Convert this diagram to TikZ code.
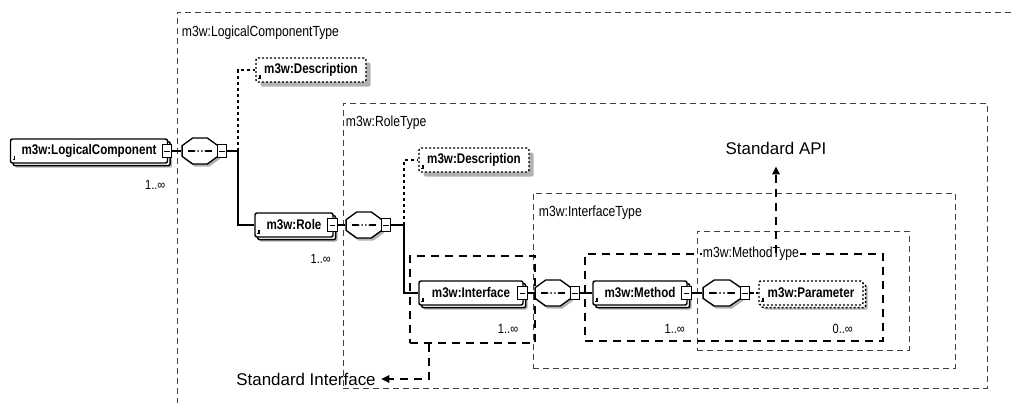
\documentclass[tikz,border=0pt]{standalone}
\usepackage{fontspec}
\setmainfont{Liberation Sans}
\newfontfamily\narrowfont[FakeStretch=0.83]{Liberation Sans}
\usepackage{tikz}
\usetikzlibrary{positioning,arrows.meta,fit,shadows,shapes.geometric}

\newcommand\elemfont{\narrowfont\bfseries\fontsize{10.5}{12}\selectfont}
\newcommand\typefont{\narrowfont\fontsize{11}{13}\selectfont}
\newcommand\cardfont{\narrowfont\fontsize{10}{12}\selectfont}

\begin{document}
\begin{tikzpicture}[
  x=0.75pt, y=-0.75pt,
  elem/.style={draw, line width=1.1pt, rounded corners=1.5pt, fill=white, font=\elemfont,
    minimum height=18pt, inner sep=0pt,
    general shadow={fill=black!30, shadow xshift=3.5pt, shadow yshift=-3.5pt},
    path picture={\draw[line width=1pt, solid, sharp corners]
      ([shift={(3pt,5pt)}]path picture bounding box.south west) -- ++(0pt,-2.5pt) -- ++(-1.2pt,0pt);}},
  multi/.style={copy shadow={shadow xshift=2pt, shadow yshift=-2pt}},
  opt/.style={dash pattern=on 1.5pt off 1.5pt},
  seq/.style={regular polygon, regular polygon sides=8, minimum size=21pt, xscale=1.38,
    draw, line width=1pt, fill=white, inner sep=0pt,
    general shadow={fill=black!30, shadow xshift=1.5pt, shadow yshift=-2pt},
    path picture={
      \draw[line width=0.8pt] ([xshift=-6.5pt]path picture bounding box.center) -- ([xshift=6.5pt]path picture bounding box.center);
      \fill (path picture bounding box.center) circle (1pt);
      \fill ([xshift=-2pt]path picture bounding box.center) circle (1pt);
      \fill ([xshift=2pt]path picture bounding box.center) circle (1pt);}},
  btn/.style={draw, line width=0.8pt, fill=white, minimum width=7pt, minimum height=10pt, inner sep=0pt,
    path picture={\draw[line width=0.6pt] ([xshift=1.5pt]path picture bounding box.west) -- ([xshift=-1.5pt]path picture bounding box.east);}},
  conn/.style={line width=0.8pt},
  optconn/.style={conn, dash pattern=on 2.5pt off 2pt},
  card/.style={font=\cardfont, inner sep=0pt},
  typebox/.style={draw=black!75, line width=0.5pt, dash pattern=on 4.5pt off 3pt, inner sep=0pt},
  typelbl/.style={font=\typefont, inner sep=0.5pt, anchor=west},
  annot/.style={draw, line width=1.6pt, dash pattern=on 6pt off 4.5pt, inner sep=0pt},
  annarr/.style={line width=1.6pt, dash pattern=on 6pt off 4.5pt, -{Triangle[length=6pt,width=5.5pt]}},
  remark/.style={font=\fontsize{12.7}{15}\selectfont, inner sep=1pt},
]
  \useasboundingbox (0,0) rectangle (1013,403);
  \clip (0,0) rectangle (1013,403);

  % complex types
  \node[typebox, fit={(177,12) (1040,430)}] (lctype) {};
  \node[typelbl] (lctlbl) at (181,33) {m3w:LogicalComponentType};
  \node[typebox, fit={(343,103) (987,388)}] (roletype) {};
  \node[typelbl] (rtlbl) at (345,123) {m3w:RoleType};
  \node[typebox, fit={(533,193) (955,368)}] (iftype) {};
  \node[typelbl] (itlbl) at (538,213) {m3w:InterfaceType};
  \node[typebox, fit={(697,231) (909,350)}] (mtype) {};

  % standard interface / API marks
  \node[annot, fit={(410,256) (535,343)}] (ifbox) {};
  \node[annot, fit={(585,254) (883,341)}] (apibox) {};
  \node[typelbl, fill=white] (mtlbl) at (702,254) {m3w:MethodType};
  \node[remark] (stdapi) at (776,148) {Standard API};
  \node[remark] (stdif) at (306,379) {Standard Interface};
  \draw[annarr, shorten >=8pt] (apibox.north -| stdapi.south) -- (stdapi.south);
  \draw[annarr, shorten >=3pt] ([xshift=15pt]ifbox.south west) |- (stdif.east);

  % LogicalComponent
  \node[elem, multi, minimum width=117.75pt] (lc) at (89,151) {m3w:LogicalComponent};
  \node[btn] (lcb) at ([xshift=-1pt]lc.east) {};
  \node[card, below left=12pt and 2pt of lc.south east] (lcn) {1..∞};
  \node[seq] (seq1) at (200,151) {};
  \node[btn, anchor=west] (s1b) at ([xshift=-1.5pt]seq1.east) {};
  \coordinate (j1) at (238,151);
  \node[elem, opt, minimum width=82.5pt] (desc1) at (311,70) {m3w:Description};

  % Role
  \node[elem, multi, minimum width=58.5pt] (role) at (294,225) {m3w:Role};
  \node[btn] (roleb) at ([xshift=-1pt]role.east) {};
  \node[card, below left=12pt and 2pt of role.south east] (rolen) {1..∞};
  \node[seq] (seq2) at (364,225) {};
  \node[btn, anchor=west] (s2b) at ([xshift=-1.5pt]seq2.east) {};
  \coordinate (j2) at (404,225);
  \node[elem, opt, minimum width=82.5pt] (desc2) at (474,160) {m3w:Description};

  % Interface, Method, Parameter
  \node[elem, multi, minimum width=78pt] (iface) at (471,293) {m3w:Interface};
  \node[btn] (ifaceb) at ([xshift=-1pt]iface.east) {};
  \node[card, below left=14pt and 4pt of iface.south east] (ifacen) {1..∞};
  \node[seq] (seq3) at (553,293) {};
  \node[btn, anchor=west] (s3b) at ([xshift=-1.5pt]seq3.east) {};
  \node[elem, multi, minimum width=70.5pt] (method) at (640,293) {m3w:Method};
  \node[btn] (methodb) at ([xshift=-1pt]method.east) {};
  \node[card, below left=14pt and 2pt of method.south east] (methodn) {1..∞};
  \node[seq, xscale=1.06] (seq4) at (722,293) {};
  \node[btn, anchor=west] (s4b) at ([xshift=-1.5pt]seq4.east) {};
  \node[elem, opt, multi, minimum width=78pt] (param) at (811,293) {m3w:Parameter};
  \node[card, below left=14pt and 8pt of param.south east] (paramn) {0..∞};

  % model connectors
  \draw[conn] (lcb.east) -- (seq1.west);
  \draw[conn] (s1b.east) -- (j1);
  \draw[conn] (j1) |- (role.west);
  \draw[optconn] (j1) |- (desc1.west);
  \draw[conn] (roleb.east) -- (seq2.west);
  \draw[conn] (s2b.east) -- (j2);
  \draw[conn] (j2) |- (iface.west);
  \draw[optconn] (j2) |- (desc2.west);
  \draw[conn] (ifaceb.east) -- (seq3.west);
  \draw[conn] (s3b.east) -- (method.west);
  \draw[conn] (methodb.east) -- (seq4.west);
  \draw[optconn] (s4b.east) -- (param.west);
\end{tikzpicture}
\end{document}
